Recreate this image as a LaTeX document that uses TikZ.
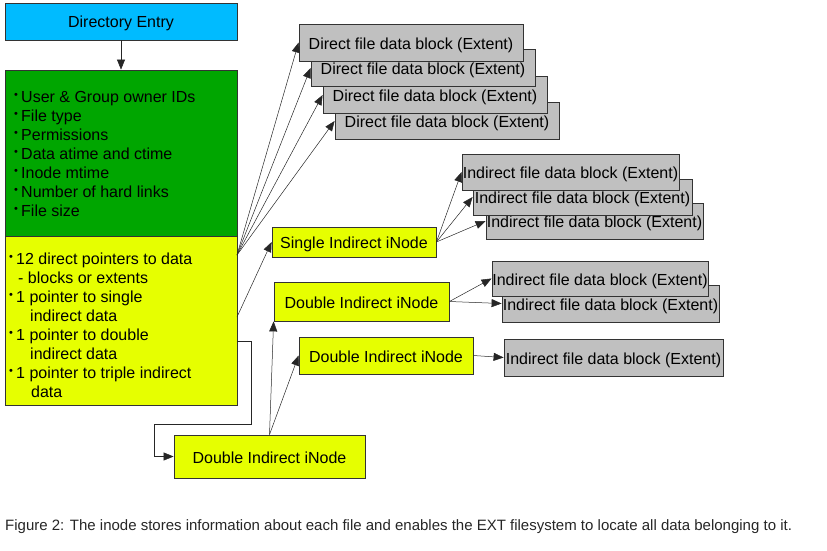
\documentclass[tikz,border=0pt]{standalone}
\usepackage{fontspec}
\setmainfont{Liberation Sans}
\usetikzlibrary{arrows.meta}
\definecolor{direntcol}{RGB}{0,187,255}
\definecolor{metacol}{RGB}{0,166,0}
\definecolor{ptrcol}{RGB}{230,255,0}
\definecolor{blockcol}{RGB}{192,192,192}
\newcommand\bul{\makebox[7pt][l]{\raisebox{4pt}{\fontsize{11}{11}\selectfont •}}}

\begin{document}
\begin{tikzpicture}[x=1pt, y=-1pt,
    box/.style={rectangle, draw=black!80, line width=0.8pt, inner sep=0pt, text height=14pt, text depth=1pt},
    block/.style={box, fill=blockcol, minimum height=37},
    inode/.style={box, fill=ptrcol},
    ptr/.style={-{Triangle[length=10pt, width=8pt]}, line width=0.5pt, black!85},
    every node/.style={font=\fontsize{16}{19}\selectfont}]

    \useasboundingbox (0, 0) rectangle (827, 551);

    % Inode
    \node at (121, 21.5) [box, fill=direntcol, minimum width=232, minimum height=37] (direntry) {Directory Entry};
    \node at (121, 153) [box, fill=metacol, minimum width=232, minimum height=166] (meta) {};
    \node at (121, 320.5) [box, fill=ptrcol, minimum width=232, minimum height=169] (ptrs) {};

    \node at (14, 91) [anchor=north west, align=left, inner sep=0pt] (metatext)
        {\bul User \& Group owner IDs\\ \bul File type\\ \bul Permissions\\
         \bul Data atime and ctime\\ \bul Inode mtime\\ \bul Number of hard links\\ \bul File size};
    \node at (9, 253) [anchor=north west, align=left, inner sep=0pt] (ptrtext)
        {\bul 12 direct pointers to data\\ \hspace*{9pt}- blocks or extents\\
         \bul 1 pointer to single\\ \hspace*{21pt}indirect data\\
         \bul 1 pointer to double\\ \hspace*{21pt}indirect data\\
         \bul 1 pointer to triple indirect\\ \hspace*{22pt}data};

    \draw [ptr] (direntry.south) -- (meta.north);

    % Direct blocks
    \node at (447, 121) [block, minimum width=224] (direct4) {Direct file data block (Extent)};
    \node at (435, 95) [block, minimum width=224] (direct3) {Direct file data block (Extent)};
    \node at (423, 68) [block, minimum width=224] (direct2) {Direct file data block (Extent)};
    \node at (411, 42.5) [block, minimum width=224] (direct1) {Direct file data block (Extent)};

    \coordinate (fan) at (237, 255);
    \draw [ptr] (fan) -- (direct1.west);
    \draw [ptr] (fan) -- (direct2.west);
    \draw [ptr] (fan) -- (direct3.west);
    \draw [ptr] (fan) -- (direct4.west);

    % Single indirect
    \node at (354, 242) [inode, minimum width=164, minimum height=30] (single) {Single Indirect iNode};
    \node at (594.5, 221) [block, minimum width=217, minimum height=36] (sind3) {Indirect file data block (Extent)};
    \node at (582.5, 197) [block, minimum width=219, minimum height=36] (sind2) {Indirect file data block (Extent)};
    \node at (570.5, 172) [block, minimum width=217, minimum height=36] (sind1) {Indirect file data block (Extent)};

    \coordinate (toSingle) at (237, 317);
    \draw [ptr] (toSingle) -- (single.west);
    \draw [ptr] (single.east) -- (sind1.west);
    \draw [ptr] (single.east) -- (sind2.west);
    \draw [ptr] (single.east) -- (sind3.west);

    % Double indirect
    \node at (269.5, 456.5) [inode, minimum width=191, minimum height=43] (triple) {Double Indirect iNode};
    \node at (361.5, 301.5) [inode, minimum width=175, minimum height=39] (dbla) {Double Indirect iNode};
    \node at (386, 355.5) [inode, minimum width=174, minimum height=37] (dblb) {Double Indirect iNode};

    \node at (610.5, 303.5) [block, minimum width=217] (indb) {Indirect file data block (Extent)};
    \node at (600, 278.5) [block, minimum width=216, minimum height=35] (inda) {Indirect file data block (Extent)};
    \node at (613.5, 357.5) [block, minimum width=219] (indc) {Indirect file data block (Extent)};

    \coordinate (toTriple) at (237, 341);
    \draw [ptr] (toTriple) -- (251, 341) -- (251, 424) -- (154, 424) -- (154, 456.5) -- (triple.west);
    \draw [ptr] (triple.north) -- (dbla.south west);
    \draw [ptr] (triple.north) -- (dblb.west);
    \draw [ptr] (dbla.east) -- (inda.west);
    \draw [ptr] (dbla.east) -- (indb.west);
    \draw [ptr] (dblb.east) -- (indc.west);

    % Caption
    \node at (5, 527) [anchor=west, inner sep=0pt, font=\fontsize{15}{18}\selectfont, black!85] (caption)
        {Figure 2: The inode stores information about each file and enables the EXT filesystem to locate all data belonging to it.};

\end{tikzpicture}
\end{document}
